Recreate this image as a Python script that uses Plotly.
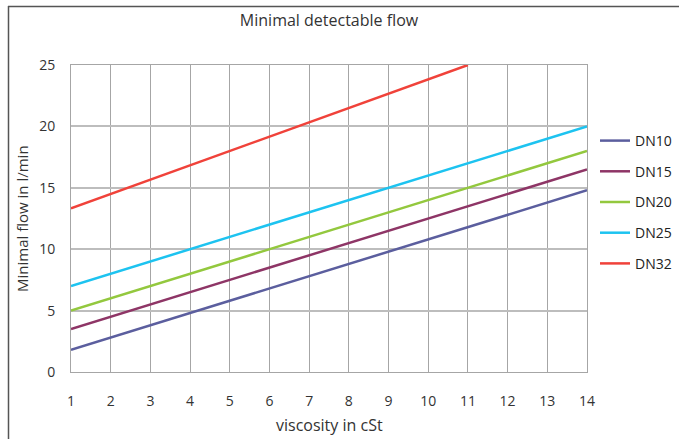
import plotly.graph_objects as go

viscosity = [1, 2, 3, 4, 5, 6, 7, 8, 9, 10, 11, 12, 13, 14]
dn10 = [1.8, 2.8, 3.8, 4.8, 5.8, 6.8, 7.8, 8.8, 9.8, 10.8, 11.8, 12.8, 13.8, 14.8]
dn15 = [3.5, 4.5, 5.5, 6.5, 7.5, 8.5, 9.5, 10.5, 11.5, 12.5, 13.5, 14.5, 15.5, 16.5]
dn20 = [5, 6, 7, 8, 9, 10, 11, 12, 13, 14, 15, 16, 17, 18]
dn25 = [7, 8, 9, 10, 11, 12, 13, 14, 15, 16, 17, 18, 19, 20]
dn32_x = [1, 2, 3, 4, 5, 6, 7, 8, 9, 10, 11]
dn32 = [13.33, 14.5, 15.67, 16.83, 18.0, 19.17, 20.33, 21.5, 22.67, 23.83, 25.0]

series = [
    ("DN10", viscosity, dn10, "#5B5E9E"),
    ("DN15", viscosity, dn15, "#8E3566"),
    ("DN20", viscosity, dn20, "#93C83E"),
    ("DN25", viscosity, dn25, "#1DC3F0"),
    ("DN32", dn32_x, dn32, "#F0423A"),
]

fig = go.Figure()
for name, xs, ys, col in series:
    fig.add_trace(go.Scatter(x=xs, y=ys, name=name, mode="lines",
                             legendgroup=name,
                             line=dict(color=col, width=2.5)))

W, H = 679, 439
L, R, T, B = 71, 92, 65, 67
pw, ph = W - L - R, H - T - B

font_fam = "Open Sans, Segoe UI, sans-serif"
fig.update_layout(
    width=W, height=H,
    margin=dict(l=L, r=R, t=T, b=B, autoexpand=False),
    paper_bgcolor="white", plot_bgcolor="white",
    font=dict(family=font_fam, color="#333333", size=14),
    title=dict(text="Minimal detectable flow", x=0.5, xref="paper", xanchor="center",
               y=1 - 20 / H, yanchor="middle", font=dict(size=16, color="#333333")),
    showlegend=True,
    legend=dict(x=(595 - L) / pw, xanchor="left", y=(372 - 202) / ph, yanchor="middle",
                font=dict(size=14, color="#222222"), tracegroupgap=9.5,
                bgcolor="rgba(0,0,0,0)", itemwidth=30),
    xaxis=dict(range=[1, 14], tickvals=viscosity, showgrid=True, gridcolor="#A6A6A6",
               gridwidth=1, zeroline=False, showline=True, linecolor="#A6A6A6",
               mirror=True, ticks="outside", ticklen=16, tickcolor="rgba(0,0,0,0)",
               automargin=False, tickfont=dict(size=14)),
    yaxis=dict(range=[0, 25], tickvals=[0, 5, 10, 15, 20, 25], showgrid=True,
               gridcolor="#BDBDBD", gridwidth=1.5, zeroline=False, showline=True,
               linecolor="#A6A6A6", mirror=True, ticks="outside", ticklen=12,
               tickcolor="rgba(0,0,0,0)", automargin=False, tickfont=dict(size=14)),
)

fig.add_annotation(text="viscosity in cSt", xref="paper", yref="paper",
                   x=0.5, y=(372 - 425) / ph, xanchor="center", yanchor="middle",
                   showarrow=False, font=dict(size=16, color="#333333"))
fig.add_annotation(text="Minimal flow in l/min", xref="paper", yref="paper",
                   x=(22 - L) / pw, y=(372 - 219) / ph, xanchor="center", yanchor="middle",
                   textangle=-90, showarrow=False, font=dict(size=15, color="#333333"))

# outer chart border (extends beyond the captured window on right/bottom)
border = dict(color="#555555", width=1.5)
fig.add_shape(type="line", xref="paper", yref="paper",
              x0=(8 - L) / pw, x1=(W + 40 - L) / pw,
              y0=(372 - 6.5) / ph, y1=(372 - 6.5) / ph, line=border)
fig.add_shape(type="line", xref="paper", yref="paper",
              x0=(8.5 - L) / pw, x1=(8.5 - L) / pw,
              y0=(372 - (H + 40)) / ph, y1=(372 - 6) / ph, line=border)

fig.write_html("out.html", config={"displayModeBar": False},
               post_script="document.body.style.margin='0px';document.body.style.overflow='hidden';")
